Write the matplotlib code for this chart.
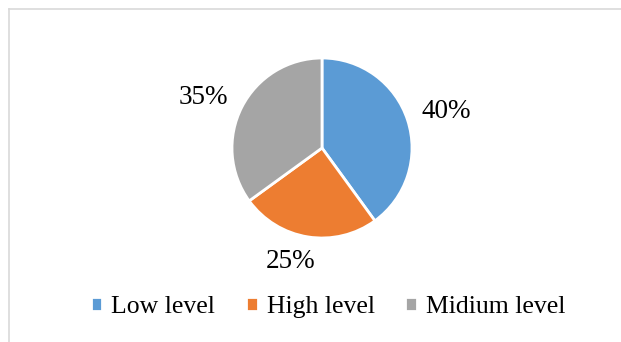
import matplotlib
matplotlib.use("Agg")
import matplotlib.pyplot as plt
from matplotlib.lines import Line2D

categories = ["Low level", "High level", "Midium level"]
values = [40, 25, 35]
labels = ["40%", "25%", "35%"]
colors = ["#5B9BD5", "#ED7D31", "#A5A5A5"]

plt.rcParams['font.family'] = ['Liberation Serif', 'DejaVu Serif']

W, H = 621, 342
fig = plt.figure(figsize=(W / 100, H / 100), dpi=100)

# border (top and left only visible)
bx, by = 8.5 / W, 1 - 8.5 / H
fig.add_artist(Line2D([bx, 1], [by, by], transform=fig.transFigure, color="#D9D9D9", linewidth=1.2))
fig.add_artist(Line2D([bx, bx], [0, by], transform=fig.transFigure, color="#D9D9D9", linewidth=1.2))

cx, cy, r = 322, 148, 90
ax = fig.add_axes([(cx - r) / W, (H - cy - r) / H, 2 * r / W, 2 * r / H])
wedges, texts = ax.pie(values, colors=colors, startangle=90, counterclock=False,
                       labels=labels, labeldistance=1.3,
                       wedgeprops=dict(edgecolor="white", linewidth=2.0),
                       textprops=dict(fontsize=19.5, color="black"))
ax.set_xlim(-1, 1)
ax.set_ylim(-1, 1)
ax.set_aspect("equal")

# place labels as in reference
label_pos = [(446, 112), (291, 261), (203, 98)]
for t, (px, py) in zip(texts, label_pos):
    t.set_position(((px - cx) / r, (cy - py) / r))
    t.set_ha("center")
    t.set_va("center")

leg = fig.legend(wedges, categories, loc="center", bbox_to_anchor=(328 / W, 1 - 307 / H),
                 ncol=3, frameon=False, fontsize=18.5, handlelength=0.45, handleheight=0.45,
                 handletextpad=0.35, columnspacing=1.2, borderpad=0, borderaxespad=0)

fig.savefig("out.png", dpi=100)
